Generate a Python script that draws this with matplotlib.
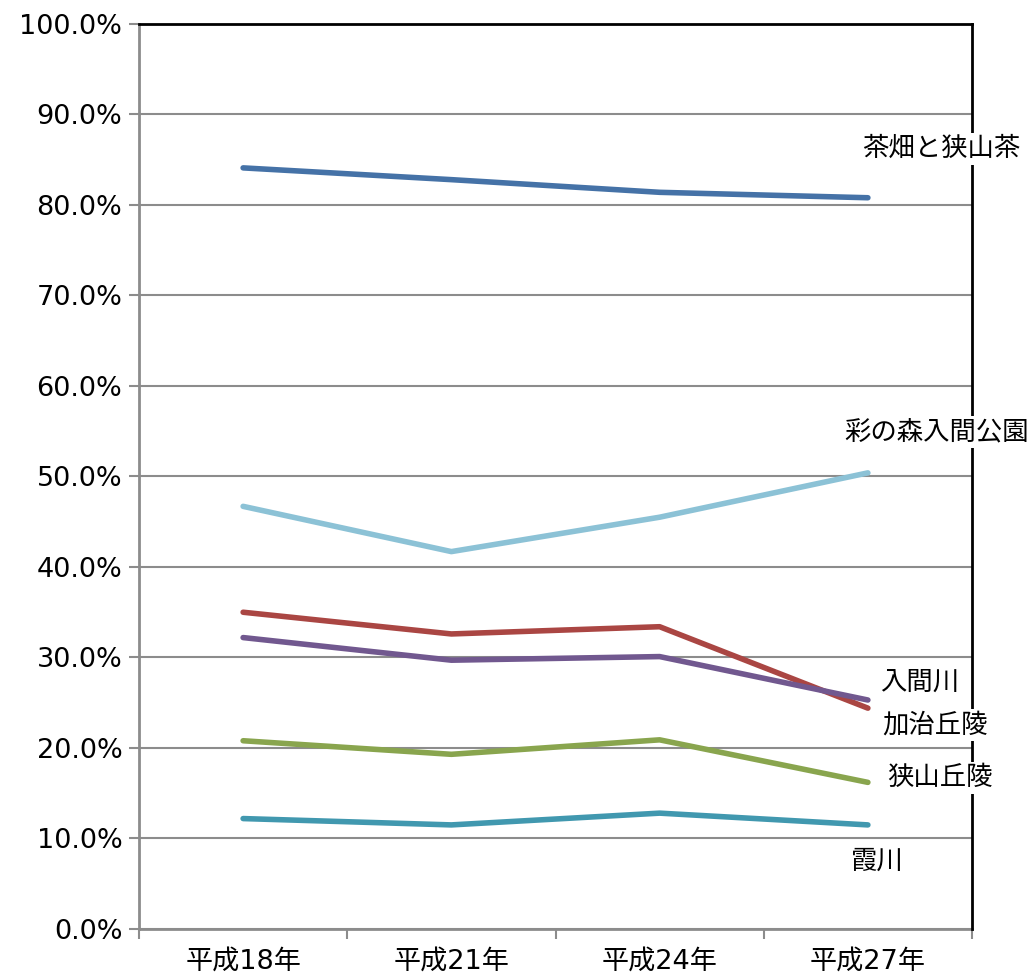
import matplotlib.pyplot as plt
from matplotlib.ticker import FixedLocator, FuncFormatter

plt.rcParams['font.family'] = ['DejaVu Sans', 'Noto Sans CJK JP']

years = ['平成18年', '平成21年', '平成24年', '平成27年']

chabatake = [84.1, 82.8, 81.4, 80.8]
irumakoen = [46.7, 41.7, 45.5, 50.4]
kaji = [35.0, 32.6, 33.4, 24.4]
irumagawa = [32.2, 29.7, 30.1, 25.3]
sayama = [20.8, 19.3, 20.9, 16.2]
kasumi = [12.2, 11.5, 12.8, 11.5]

series = [
    ('茶畑と狭山茶', chabatake, '#4572a7'),
    ('彩の森入間公園', irumakoen, '#8cc2d6'),
    ('加治丘陵', kaji, '#aa4643'),
    ('入間川', irumagawa, '#71588f'),
    ('狭山丘陵', sayama, '#89a54e'),
    ('霞川', kasumi, '#4198af'),
]

# label anchor (x in category units, y in %)
label_pos = {
    '茶畑と狭山茶': (3.35, 86.2),
    '彩の森入間公園': (3.33, 54.9),
    '入間川': (3.25, 27.2),
    '加治丘陵': (3.32, 22.5),
    '狭山丘陵': (3.345, 16.7),
    '霞川': (3.043, 7.4),
}

fig = plt.figure(figsize=(10.31, 9.75), dpi=100)
ax = fig.add_axes([0.1348, 0.0472, 0.808, 0.9282])

ax.set_ylim(0, 100)
ax.set_xlim(-0.5, 3.5)

ax.yaxis.set_major_locator(FixedLocator(range(0, 101, 10)))
ax.yaxis.set_major_formatter(FuncFormatter(lambda v, p: f'{v:.1f}%'))
ax.grid(axis='y', color='#8c8c8c', linewidth=1.5)
ax.set_axisbelow(True)

xs = list(range(len(years)))
for name, vals, color in series:
    ax.plot(xs, vals, color=color, linewidth=4.0, solid_capstyle='round',
            solid_joinstyle='round', zorder=3)
    lx, ly = label_pos[name]
    ax.text(lx, ly, name, fontsize=19, ha='center', va='center', zorder=5,
            bbox=dict(facecolor='white', edgecolor='none', pad=2),
            clip_on=False)

ax.set_xticks(xs)
ax.set_xticklabels(years)
ax.xaxis.set_minor_locator(FixedLocator([-0.5, 0.5, 1.5, 2.5, 3.5]))
ax.tick_params(axis='x', which='major', length=0, pad=14, labelsize=19.5)
ax.tick_params(axis='x', which='minor', length=7, width=1.5, color='#8c8c8c')
ax.tick_params(axis='y', length=7, width=1.5, color='#8c8c8c', labelsize=19.5, pad=5)

for side in ['left', 'bottom']:
    ax.spines[side].set_color('#8c8c8c')
    ax.spines[side].set_linewidth(2)
for side in ['top', 'right']:
    ax.spines[side].set_color('black')
    ax.spines[side].set_linewidth(2)
    ax.spines[side].set_zorder(4)

fig.savefig('out.png', dpi=100)
